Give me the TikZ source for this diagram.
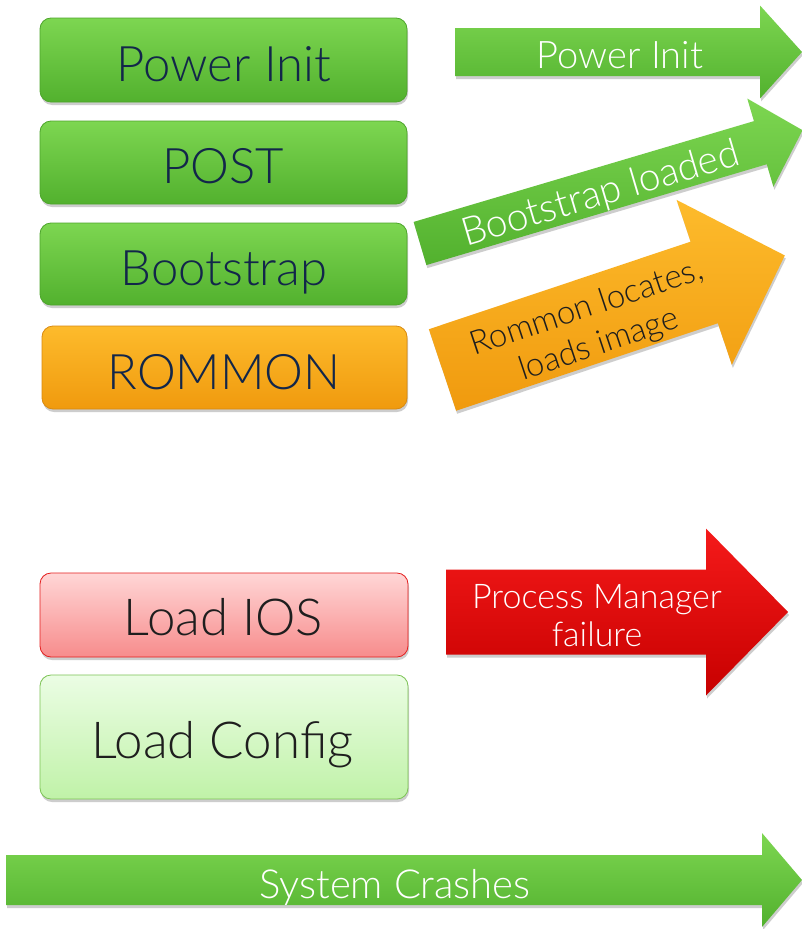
\documentclass[tikz,border=0pt]{standalone}
\usepackage{fontspec}
\setmainfont{Lato}[UprightFont=* Light]
\usetikzlibrary{shadows}
\definecolor{gL}{HTML}{7DD651}
\definecolor{gD}{HTML}{52B12E}
\definecolor{gE}{HTML}{4DA52B}
\definecolor{oL}{HTML}{FDBB2C}
\definecolor{oD}{HTML}{F09A0E}
\definecolor{oE}{HTML}{D98A10}
\definecolor{navy}{HTML}{12264A}
\definecolor{pinkL}{HTML}{FFD6D6}
\definecolor{pinkD}{HTML}{F78C8C}
\definecolor{redE}{HTML}{E41E1E}
\definecolor{lgL}{HTML}{EBFDE4}
\definecolor{lgD}{HTML}{C0F2A8}
\definecolor{lgE}{HTML}{7CC354}
\definecolor{rL}{HTML}{F51A1A}
\definecolor{rD}{HTML}{C70000}
\definecolor{darktxt}{HTML}{1E1E1E}
\newcommand\fatarrow[8]{%
  \begin{scope}[shift={(#1,#2)},rotate=#3]
    \path[#8] (0,-#5) -- ({#4-#7},-#5) -- ({#4-#7},-#6) -- (#4,0) -- ({#4-#7},#6) -- ({#4-#7},#5) -- (0,#5) -- cycle;
  \end{scope}}
\tikzset{
  sh/.style={drop shadow={opacity=0.28, shadow xshift=1pt, shadow yshift=-3pt, fill=black!70}},
  box/.style={rounded corners=11pt, minimum width=367pt, minimum height=84pt, inner sep=0pt, line width=0.8pt, sh},
  greenbox/.style={box, top color=gL, bottom color=gD, draw=gE},
  orangebox/.style={box, top color=oL, bottom color=oD, draw=oE},
  pinkbox/.style={box, top color=pinkL, bottom color=pinkD, draw=redE},
  lightbox/.style={box, top color=lgL, bottom color=lgD, draw=lgE},
  boxtxt/.style={font=\fontsize{49}{52}\selectfont, text=navy, anchor=base, inner sep=0pt},
  lowtxt/.style={font=\fontsize{51}{54}\selectfont, text=darktxt, anchor=base, inner sep=0pt},
  garrow/.style={top color=gL, bottom color=gD, sh},
  oarrow/.style={top color=oL, bottom color=oD, sh},
  rarrow/.style={top color=rL, bottom color=rD, sh},
  wtxt/.style={text=white, inner sep=0pt},
}
\begin{document}
\begin{tikzpicture}[x=1pt,y=-1pt]
\useasboundingbox (0,0) rectangle (802,929);
\fill[white] (0,0) rectangle (802,929);
% boxes
\node[greenbox, minimum height=84pt] (b1) at (223.5,60) {};
\node[greenbox, minimum height=83pt] (b2) at (223.5,162.5) {};
\node[greenbox, minimum height=82pt] (b3) at (223.5,264) {};
\node[orangebox, minimum width=365pt, minimum height=83pt] (b4) at (224.5,367.5) {};
\node[pinkbox, minimum width=368pt, minimum height=84pt] (b5) at (224,615) {};
\node[lightbox, minimum width=368pt, minimum height=124pt] (b6) at (224,737) {};
\node[boxtxt] (t1) at (224,81) {Power Init};
\node[boxtxt] (t2) at (223,183) {POST};
\node[boxtxt] (t3) at (224,285) {Bootstrap};
\node[boxtxt] (t4) at (224,389) {ROMMON};
\node[lowtxt] (t5) at (223.5,635) {Load IOS};
\node[lowtxt] (t6) at (222.5,758) {Load Config};
% arrows
\fatarrow{455}{52}{0}{347}{24}{46.5}{42}{garrow}
\fatarrow{420}{243.5}{16.5}{399}{22.5}{46}{44}{garrow}
\fatarrow{442.5}{370}{18.5}{361}{43}{87}{85}{oarrow}
\fatarrow{446}{612}{0}{342}{42.5}{83.5}{82}{rarrow}
\fatarrow{6}{880}{0}{796}{25}{47}{40}{garrow}
\node[wtxt, font=\fontsize{38}{40}\selectfont, anchor=base] (a1) at (620,68) {Power Init};
\node[wtxt, font=\fontsize{39}{40}\selectfont, rotate=16.5] (a2) at (601,195) {Bootstrap loaded};
\node[text=darktxt, inner sep=0pt, font=\fontsize{33}{39}\selectfont, align=center, rotate=18.5] (a3) at (593,327) {Rommon locates,\\loads image};
\node[wtxt, font=\fontsize{34}{38}\selectfont, anchor=base] (a4) at (597,608) {Process Manager};
\node[wtxt, font=\fontsize{34}{38}\selectfont, anchor=base] (a5) at (597,646) {failure};
\node[wtxt, font=\fontsize{40}{42}\selectfont, anchor=base] (a6) at (395,898) {System Crashes};
\end{tikzpicture}
\end{document}
